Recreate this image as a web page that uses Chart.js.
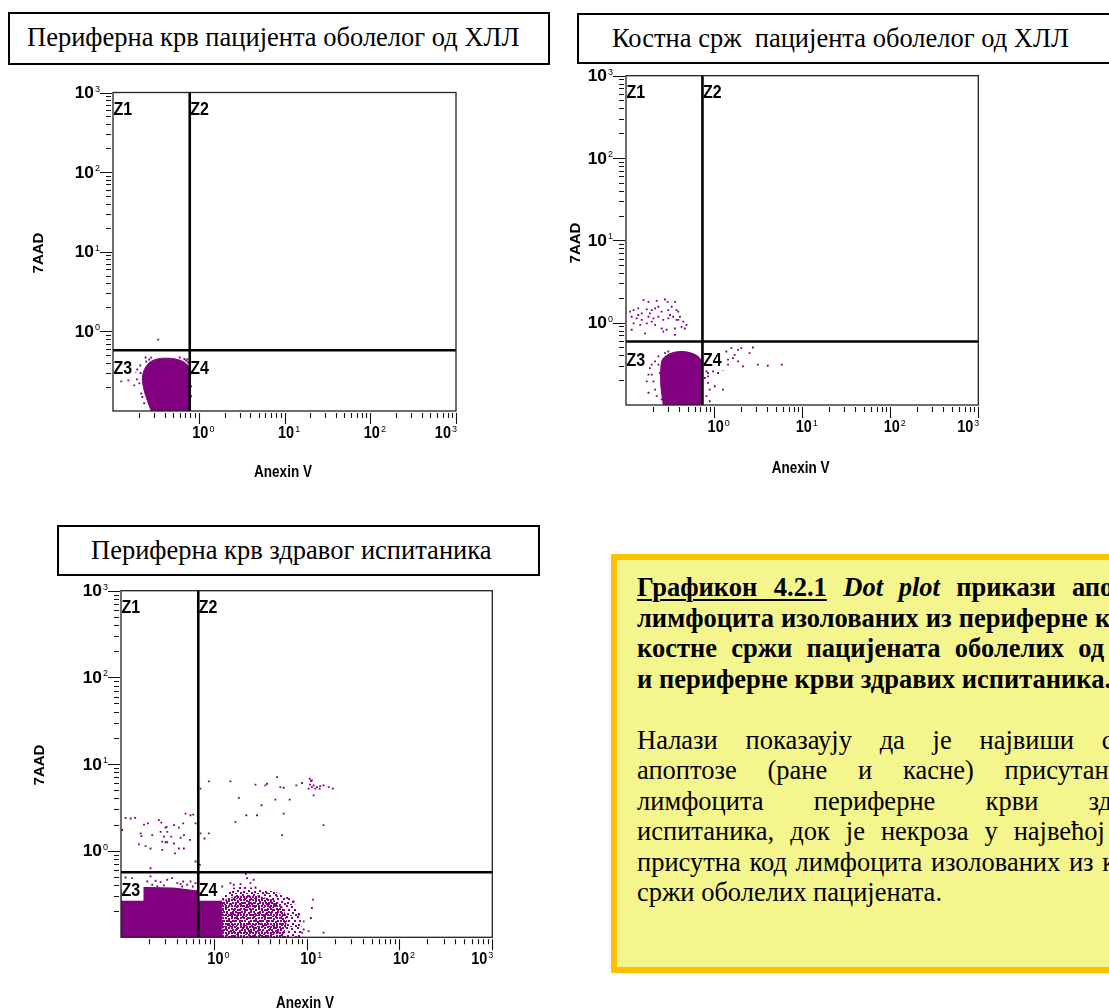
<!DOCTYPE html>
<html>
<head>
<meta charset="utf-8">
<script src="https://cdn.jsdelivr.net/npm/chart.js@4.4.1/dist/chart.umd.min.js"></script>
<style>
  html, body { margin: 0; padding: 0; background: #fff; }
  body { position: relative; width: 1109px; height: 1008px; overflow: hidden;
         font-family: "Liberation Serif", "Times New Roman", serif; color: #000; }
  .tbox { position: absolute; box-sizing: border-box; border: 2px solid #000; background: #fff;
          font-size: 26.5px; line-height: 47px; white-space: pre; }
  canvas { position: absolute; }
  #note { position: absolute; left: 611px; top: 554px; width: 640px; height: 419px; box-sizing: border-box;
          border: 6.5px solid #FFC000; background: #F5F58E; padding: 12px 0 0 20px;
          font-size: 26.5px; line-height: 30.5px; }
  .jl { display: flex; justify-content: space-between; width: 540px; white-space: nowrap; }
  .ll { white-space: nowrap; }
  .b { font-weight: bold; }
  .u { text-decoration: underline; text-decoration-thickness: 2px; text-underline-offset: 3px; word-spacing: 10px; }
  .i { font-style: italic; word-spacing: 9px; }
</style>
</head>
<body>

<div class="tbox" style="left:8px;top:12px;width:542px;height:53px;padding-left:17px;">Периферна крв пацијента оболелог од ХЛЛ</div>
<div class="tbox" style="left:577px;top:13px;width:600px;height:51px;padding-left:33px;">Костна срж  пацијента оболелог од ХЛЛ</div>
<div class="tbox" style="left:57px;top:525px;width:483px;height:51px;padding-left:32px;">Периферна крв здравог испитаника</div>

<div id="note">
  <div class="jl b"><span class="u">Графикон 4.2.1</span><span class="i">Dot plot</span><span>прикази</span><span>апоптозе</span></div>
  <div class="jl b"><span>лимфоцита</span><span>изолованих</span><span>из</span><span>периферне</span><span>крви</span><span>и</span></div>
  <div class="jl b"><span>костне</span><span>сржи</span><span>пацијената</span><span>оболелих</span><span>од</span><span>ХЛЛ</span></div>
  <div class="ll b">и периферне крви здравих испитаника.</div>
  <div class="ll">&nbsp;</div>
  <div class="jl"><span>Налази</span><span>показаују</span><span>да</span><span>је</span><span>највиши</span><span>степен</span></div>
  <div class="jl"><span>апоптозе</span><span>(ране</span><span>и</span><span>касне)</span><span>присутан</span><span>код</span></div>
  <div class="jl"><span>лимфоцита</span><span>периферне</span><span>крви</span><span>здравих</span></div>
  <div class="jl"><span>испитаника,</span><span>док</span><span>је</span><span>некроза</span><span>у</span><span>највећој</span><span>мери</span></div>
  <div class="jl"><span>присутна</span><span>код</span><span>лимфоцита</span><span>изолованих</span><span>из</span><span>костне</span></div>
  <div class="ll">сржи оболелих пацијената.</div>
</div>

<canvas id="plot1" width="560" height="450" style="left:0px;top:70px;"></canvas>
<canvas id="plot2" width="549" height="450" style="left:560px;top:60px;"></canvas>
<canvas id="plot3" width="560" height="433" style="left:0px;top:575px;"></canvas>

<script>
// three flow cytometry dot plots (Anexin V vs 7AAD), log axes 0.1 .. 1000
const PURPLE = "#800080";
const FONT = '"Liberation Sans", Arial, sans-serif';

const axisMin = 0.1, axisMax = 1000;
const majorTicks = [1, 10, 100, 1000];
const majorExp = ["0", "1", "2", "3"];
const minorTicks = [0.2, 0.3, 0.4, 0.5, 0.6, 0.7, 0.8, 0.9,
                    2, 3, 4, 5, 6, 7, 8, 9,
                    20, 30, 40, 50, 60, 70, 80, 90,
                    200, 300, 400, 500, 600, 700, 800, 900];
const zoneNames = ["Z1", "Z2", "Z3", "Z4"];
const xTitle = "Anexin V";
const yTitle = "7AAD";

// --- plot 1: peripheral blood, CLL patient
const p1Gate = [0.785, 0.579];
const p1Blob = [[0.279,0.1],[0.251,0.136],[0.228,0.19],[0.22,0.26],[0.232,0.33],[0.262,0.4],[0.31,0.443],
  [0.385,0.46],[0.49,0.457],[0.6,0.435],[0.7,0.4],[0.77,0.35],[0.782,0.1]];
const p1Dots = [[0.337,0.787],[0.125,0.235],[0.151,0.242],[0.168,0.272],[0.182,0.305],[0.192,0.332],
  [0.177,0.21],[0.203,0.222],[0.214,0.166],[0.231,0.125],[0.814,0.204],[0.814,0.153],[0.792,0.128],
  [0.244,0.418],[0.265,0.443],[0.279,0.469],[0.731,0.443],[0.208,0.373],[0.21,0.3],[0.24,0.47],
  [0.6,0.47],[0.68,0.45],[0.16,0.26],[0.19,0.25],[0.22,0.15],[0.75,0.41],[0.71,0.43]];

// --- plot 2: bone marrow, CLL patient
const p2Gate = [0.738, 0.59];
const p2Blob = [[0.265,0.1],[0.249,0.169],[0.248,0.269],[0.258,0.355],[0.297,0.407],[0.36,0.439],
  [0.447,0.447],[0.554,0.427],[0.659,0.389],[0.719,0.339],[0.735,0.1]];
const p2Z1Dots = [[0.158,1.88],[0.18,1.79],[0.223,1.84],[0.277,1.91],[0.297,1.79],[0.36,1.79],
  [0.111,1.36],[0.122,1.42],[0.138,1.49],[0.151,1.30],[0.172,1.45],[0.196,1.42],[0.233,1.56],
  [0.254,1.36],[0.302,1.42],[0.375,1.42],[0.392,1.36],[0.116,1.18],[0.132,1.13],[0.151,1.08],
  [0.18,1.18],[0.205,1.13],[0.233,1.18],[0.265,1.08],[0.302,1.13],[0.344,1.18],[0.392,1.08],
  [0.447,1.03],[0.122,0.98],[0.145,0.94],[0.172,0.98],[0.214,0.94],[0.254,0.85],[0.289,0.82],
  [0.36,0.85],[0.428,0.89],[0.487,0.94],[0.116,0.82],[0.165,0.74],[0.265,0.78],[0.36,0.71],
  [0.466,0.85],[0.138,1.24],[0.187,1.30],[0.33,1.56],[0.409,1.18],[0.214,1.49],[0.316,1.24],
  [0.375,1.08],[0.196,1.03]];
const p2Dots = [[0.855,0.427],[0.933,0.355],[1.06,0.407],[1.21,0.389],[1.38,0.447],[1.44,0.355],
  [1.57,0.49],[1.71,0.407],[1.87,0.339],[2.04,0.49],[2.13,0.294],[2.53,0.427],[2.76,0.50],
  [3.14,0.309],[4.07,0.30],[5.87,0.309],[0.855,0.245],[0.974,0.256],[1.11,0.245],[1.26,0.269],
  [0.855,0.186],[0.893,0.154],[1.02,0.169],[1.26,0.154],[0.819,0.128],[0.893,0.111],[0.785,0.213],
  [1.44,0.309],[1.64,0.371],[1.87,0.468],[0.785,0.294],[0.819,0.256],[0.855,0.223],[1.11,0.30],
  [0.933,0.28],[0.187,0.281],[0.196,0.234],[0.205,0.194],[0.214,0.154],[0.223,0.128],[0.233,0.309],
  [0.243,0.245],[0.254,0.117],[0.172,0.194],[0.18,0.141],[0.214,0.339],[0.233,0.389],[0.277,0.427],
  [0.302,0.447],[0.508,0.427],[0.579,0.407],[0.659,0.371],[0.689,0.323],[0.18,0.234],[0.196,0.309]];

// --- plot 3: peripheral blood, healthy donor
const p3Gate = [0.68, 0.564];
const p3Solid = [[0.1,0.1],[0.1,0.354],[0.177,0.376],[0.372,0.37],[0.635,0.345],[0.673,0.351],
  [0.719,0.265],[1.2,0.265],[1.23,0.1]];
const p3Speckle = [[1.18,0.1],[1.18,0.284],[1.39,0.324],[1.64,0.376],[2.28,0.386],[3.18,0.354],
  [4.42,0.339],[6.15,0.297],[7.25,0.26],[8.55,0.183],[8.91,0.141],[8.55,0.1]];
const p3Core = [[1.2,0.1],[1.2,0.26],[1.64,0.297],[2.69,0.31],[4.42,0.272],[5.66,0.218],
  [6.15,0.153],[5.66,0.1]];
const p3Dots = [
  // Z1
  [0.112,2.39],[0.127,2.35],[0.142,2.39],[0.177,2.0],[0.195,2.06],[0.256,2.25],[0.272,2.11],
  [0.302,1.84],[0.31,1.88],[0.372,1.97],[0.421,1.84],[0.468,2.06],[0.496,2.68],[0.561,2.56],
  [0.6,2.61],[0.635,2.06],[0.163,1.58],[0.166,1.47],[0.217,1.51],[0.267,1.65],[0.29,1.45],
  [0.315,1.65],[0.348,1.45],[0.438,1.41],[0.476,1.51],[0.156,1.18],[0.184,1.13],[0.208,1.06],
  [0.278,1.27],[0.302,1.25],[0.315,1.25],[0.372,1.21],[0.421,1.06],[0.476,1.06],[0.552,1.33],
  [0.278,1.02],[0.381,0.93],[0.103,1.73],[0.208,0.627],[0.635,0.75],
  // Z2
  [0.707,0.685],[0.719,5.19],[0.883,6.29],[1.51,6.29],[2.81,5.77],[3.59,5.66],[3.74,5.92],[4.8,7.06],
  [5.21,5.42],[5.66,5.32],[7.74,5.66],[8.91,6.03],[10.8,6.76],[11.1,6.35],[10.5,5.19],[11.4,5.42],
  [11.9,5.66],[12.4,5.19],[12.9,5.42],[14.0,5.56],[15.2,5.66],[17.3,5.42],[19.2,5.19],[11.9,4.35],
  [1.86,4.06],[3.26,3.34],[4.61,3.88],[6.56,3.88],[2.24,2.56],[2.92,2.56],[1.71,2.15],[5.66,2.68],
  [0.719,1.58],[0.794,1.38],[0.883,1.58],[5.43,1.51],[15.2,1.97],[11.4,6.46],[13.8,5.19],[10.9,5.77],
  // Z3 upper edge
  [0.112,0.49],[0.132,0.482],[0.192,0.441],[0.208,0.504],[0.236,0.449],[0.267,0.433],[0.315,0.461],
  [0.356,0.482],[0.404,0.422],[0.468,0.441],[0.561,0.441],[0.635,0.422],[0.217,0.404],[0.246,0.386],
  [0.29,0.397],[0.456,0.386],[0.517,0.404],[0.594,0.386],[0.438,0.411],
  // Z4
  [1.51,0.422],[1.64,0.404],[1.94,0.411],[2.28,0.482],[2.48,0.422],[2.69,0.461],[2.21,0.535],
  [1.23,0.386],[3.74,0.324],[4.8,0.297],[6.15,0.284],[7.25,0.26],[8.2,0.183],[9.29,0.153],
  [11.7,0.272],[11.4,0.218],[11.1,0.167],[15.2,0.113],[10.5,0.118],[8.91,0.113],[9.29,0.123],
  [5.66,0.113],[2.81,0.376]];

const pts = arr => arr.map(([x, y]) => ({x, y}));

// dithered fill used for the loose part of the healthy-donor cloud
function speckle(cells, size, dot) {
  const c = document.createElement("canvas");
  c.width = size; c.height = size;
  const g = c.getContext("2d");
  g.fillStyle = PURPLE;
  cells.forEach(([cx, cy]) => g.fillRect(cx, cy, dot, dot));
  return g.createPattern(c, "repeat");
}
const lightSpeckle = speckle([[0,0],[5,1],[8,4],[2,4],[6,7],[1,8],[9,9],[4,10]], 11, 2);
const denseSpeckle = speckle([[0,0],[3,1],[6,0],[1,3],[5,4],[3,6],[0,6],[6,6],[2,8],[7,3]], 9, 2);

function dots(arr) {
  return { type: "scatter", data: pts(arr), pointStyle: "rect", pointRadius: 1.3, pointHoverRadius: 1.3,
           backgroundColor: PURPLE, borderWidth: 0 };
}
function area(arr, color, tension) {
  return { type: "line", data: pts(arr), fill: "shape", backgroundColor: color,
           borderColor: color === PURPLE ? PURPLE : "rgba(0,0,0,0)", borderWidth: color === PURPLE ? 1 : 0,
           pointRadius: 0, tension: tension || 0 };
}

function text(ctx, s, x, y, size, sy, weight, align, sx) {
  ctx.save();
  ctx.translate(x, y);
  ctx.scale(sx || 1, sy);
  ctx.font = `${weight} ${size}px ${FONT}`;
  ctx.textAlign = align || "left";
  ctx.textBaseline = "alphabetic";
  ctx.fillStyle = "#000";
  ctx.fillText(s, 0, 0);
  ctx.restore();
}

function decor(opt) {
  return {
    id: "decor",
    afterDatasetsDraw(chart) {
      const {ctx, chartArea: a, scales: {x, y}} = chart;
      const gx = x.getPixelForValue(opt.gate[0]);
      const gy = y.getPixelForValue(opt.gate[1]);
      ctx.save();

      // zone labels
      [[a.left, a.top, 9], [gx, a.top, 9], [a.left, gy, 10.5], [gx, gy, 10.5]].forEach(([lx, ly, dy], i) => {
        if (i >= 2) { ctx.fillStyle = "#fff"; ctx.fillRect(lx + 0.5, ly + 9, 22, 19.5); }
        text(ctx, zoneNames[i], lx + 0.5, ly + dy + 13.5, 16, 1.18, "bold");
      });

      // quadrant gates
      ctx.strokeStyle = "#000";
      ctx.lineWidth = 2.6;
      ctx.beginPath();
      ctx.moveTo(gx, a.top); ctx.lineTo(gx, a.bottom);
      ctx.moveTo(a.left, gy); ctx.lineTo(a.right, gy);
      ctx.stroke();

      // frame
      ctx.strokeStyle = "#222";
      ctx.lineWidth = 1.3;
      ctx.strokeRect(a.left, a.top, a.right - a.left, a.bottom - a.top);

      // tick marks
      ctx.strokeStyle = "#111";
      ctx.lineWidth = 1.1;
      ctx.beginPath();
      minorTicks.forEach(v => {
        const px = Math.round(x.getPixelForValue(v)) + 0.5;
        ctx.moveTo(px, a.bottom + 2); ctx.lineTo(px, a.bottom + 7);
        const py = Math.round(y.getPixelForValue(v)) + 0.5;
        ctx.moveTo(a.left - 7, py); ctx.lineTo(a.left - 2, py);
      });
      majorTicks.forEach(v => {
        const px = Math.round(x.getPixelForValue(v)) + 0.5;
        ctx.moveTo(px, a.bottom + 2); ctx.lineTo(px, a.bottom + 13);
        const py = Math.round(y.getPixelForValue(v)) + 0.5;
        ctx.moveTo(a.left - 13, py); ctx.lineTo(a.left - 1, py);
      });
      ctx.stroke();

      // tick labels 10^n
      majorTicks.forEach((v, i) => {
        ctx.font = `bold 14.5px ${FONT}`;
        const w10 = ctx.measureText("10").width;
        ctx.font = `9px ${FONT}`;
        const we = ctx.measureText(majorExp[i]).width;

        const px = x.getPixelForValue(v);
        let left = px - 6.5;
        if (left + w10 + 1 + we > a.right + 1) left = a.right + 1 - (w10 + 1 + we);
        text(ctx, "10", left, a.bottom + 26.7, 14.5, 1.08, "bold");
        text(ctx, majorExp[i], left + w10 + 1, a.bottom + 20.5, 9, 1.1, "normal");

        const py = y.getPixelForValue(v);
        const w10y = w10 * 1.2;
        const yl = a.left - 13 - we - 1 - w10y;
        text(ctx, "10", yl, py + 5.5, 14.5, 1.08, "bold", "left", 1.2);
        text(ctx, majorExp[i], yl + w10y + 1, py - 1, 9, 1.1, "normal");
      });

      // axis titles
      text(ctx, xTitle, opt.xTitleAt[0], opt.xTitleAt[1] + 5.8, 13.5, 1.2, "bold", "center");
      ctx.save();
      ctx.translate(opt.yTitleAt[0], opt.yTitleAt[1]);
      ctx.rotate(-Math.PI / 2);
      text(ctx, yTitle, 0, 5.5, 15, 1.0, "bold", "center");
      ctx.restore();

      ctx.restore();
    }
  };
}

function makePlot(id, datasets, pad, opt) {
  return new Chart(document.getElementById(id), {
    type: "scatter",
    data: { datasets },
    options: {
      responsive: false,
      animation: false,
      events: [],
      layout: { padding: pad },
      plugins: { legend: { display: false }, tooltip: { enabled: false } },
      scales: {
        x: { type: "logarithmic", min: axisMin, max: axisMax, display: false },
        y: { type: "logarithmic", min: axisMin, max: axisMax, display: false }
      }
    },
    plugins: [decor(opt)]
  });
}

makePlot("plot1",
  [area(p1Blob, PURPLE, 0.3), dots(p1Dots)],
  { left: 113, top: 22.5, right: 104, bottom: 109 },
  { gate: p1Gate, xTitleAt: [283, 401], yTitleAt: [37, 183] });

makePlot("plot2",
  [area(p2Blob, PURPLE, 0.3), dots(p2Z1Dots), dots(p2Dots)],
  { left: 66, top: 15.7, right: 130.7, bottom: 105 },
  { gate: p2Gate, xTitleAt: [240.7, 407.3], yTitleAt: [14, 183] });

makePlot("plot3",
  [area(p3Speckle, lightSpeckle), area(p3Core, denseSpeckle), area(p3Solid, PURPLE), dots(p3Dots)],
  { left: 121, top: 15.7, right: 67.7, bottom: 70.7 },
  { gate: p3Gate, xTitleAt: [305, 426.7], yTitleAt: [38.3, 190] });
</script>
</body>
</html>
